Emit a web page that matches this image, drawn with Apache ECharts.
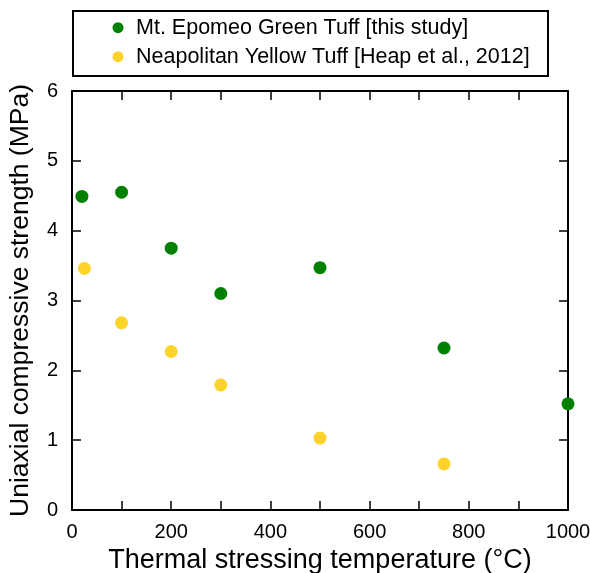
<!DOCTYPE html>
<html>
<head>
<meta charset="utf-8">
<script src="https://cdn.jsdelivr.net/npm/echarts@6/dist/echarts.min.js"></script>
<style>
html,body{margin:0;padding:0;background:#fff;}
#chart{width:590px;height:573px;}
</style>
</head>
<body>
<div id="chart"></div>
<script>
// Data
var seriesNames = ['Mt. Epomeo Green Tuff [this study]', 'Neapolitan Yellow Tuff [Heap et al., 2012]'];
var seriesColors = ['#008000', '#ffd42a'];
var greenTemps = [20, 100, 200, 300, 500, 750, 1000];
var greenUCS = [4.49, 4.55, 3.75, 3.10, 3.47, 2.32, 1.52];
var yellowTemps = [25, 100, 200, 300, 500, 750];
var yellowUCS = [3.46, 2.68, 2.27, 1.79, 1.03, 0.66];
var xTitle = 'Thermal stressing temperature (°C)';
var yTitle = 'Uniaxial compressive strength (MPa)';

function pairs(xs, ys) { return xs.map(function (x, i) { return [x, ys[i]]; }); }

var FONT = 'Liberation Sans, Arial, sans-serif';
var chart = echarts.init(document.getElementById('chart'), null, { renderer: 'canvas' });
var axisLine = { show: true, onZero: false, lineStyle: { color: '#000', width: 2 } };
var tick = { show: true, inside: true, length: 9, lineStyle: { color: '#000', width: 1.5 } };

var legendGraphics = [{
  type: 'rect',
  shape: { x: 73, y: 11, width: 475, height: 65 },
  style: { fill: 'none', stroke: '#000', lineWidth: 2 },
  z: 10
}];
var rowY = [27.7, 56.7];
seriesNames.forEach(function (name, i) {
  legendGraphics.push({
    type: 'circle', shape: { cx: 118, cy: rowY[i], r: 5.5 },
    style: { fill: seriesColors[i] }, z: 10
  });
  legendGraphics.push({
    type: 'text', x: 136, y: rowY[i],
    style: { text: name, fontSize: 21.5, fontFamily: FONT, fill: '#000', verticalAlign: 'middle', align: 'left' },
    z: 10
  });
});

chart.setOption({
  animation: false,
  backgroundColor: '#fff',
  textStyle: { fontFamily: FONT },
  grid: { left: 72, right: 22, top: 91, bottom: 63, containLabel: false, outerBoundsMode: 'none' },
  graphic: legendGraphics,
  xAxis: [{
    type: 'value', min: 0, max: 1000, interval: 100, position: 'bottom',
    axisLine: axisLine, axisTick: tick, splitLine: { show: false },
    axisLabel: { fontSize: 20, color: '#000', margin: 12, fontFamily: FONT,
      formatter: function (v) { return v % 200 === 0 ? String(v) : ''; } },
    name: xTitle, nameLocation: 'middle', nameGap: 26,
    nameTextStyle: { fontSize: 27, color: '#000', fontFamily: FONT }
  }, {
    type: 'value', min: 0, max: 1000, interval: 100, position: 'top',
    axisLine: axisLine, axisTick: tick, splitLine: { show: false },
    axisLabel: { show: false }
  }],
  yAxis: [{
    type: 'value', min: 0, max: 6, interval: 1, position: 'left',
    axisLine: axisLine, axisTick: tick, splitLine: { show: false },
    axisLabel: { fontSize: 20, color: '#000', margin: 14, fontFamily: FONT },
    name: yTitle, nameLocation: 'middle', nameGap: 38,
    nameTextStyle: { fontSize: 26.5, color: '#000', fontFamily: FONT }
  }, {
    type: 'value', min: 0, max: 6, interval: 1, position: 'right',
    axisLine: axisLine, axisTick: tick, splitLine: { show: false },
    axisLabel: { show: false }
  }],
  series: [{
    name: seriesNames[0], type: 'scatter', symbolSize: 13,
    itemStyle: { color: seriesColors[0], opacity: 1 }, z: 5, clip: false,
    data: pairs(greenTemps, greenUCS)
  }, {
    name: seriesNames[1], type: 'scatter', symbolSize: 13,
    itemStyle: { color: seriesColors[1], opacity: 1 }, z: 5, clip: false,
    data: pairs(yellowTemps, yellowUCS)
  }]
});
</script>
</body>
</html>
